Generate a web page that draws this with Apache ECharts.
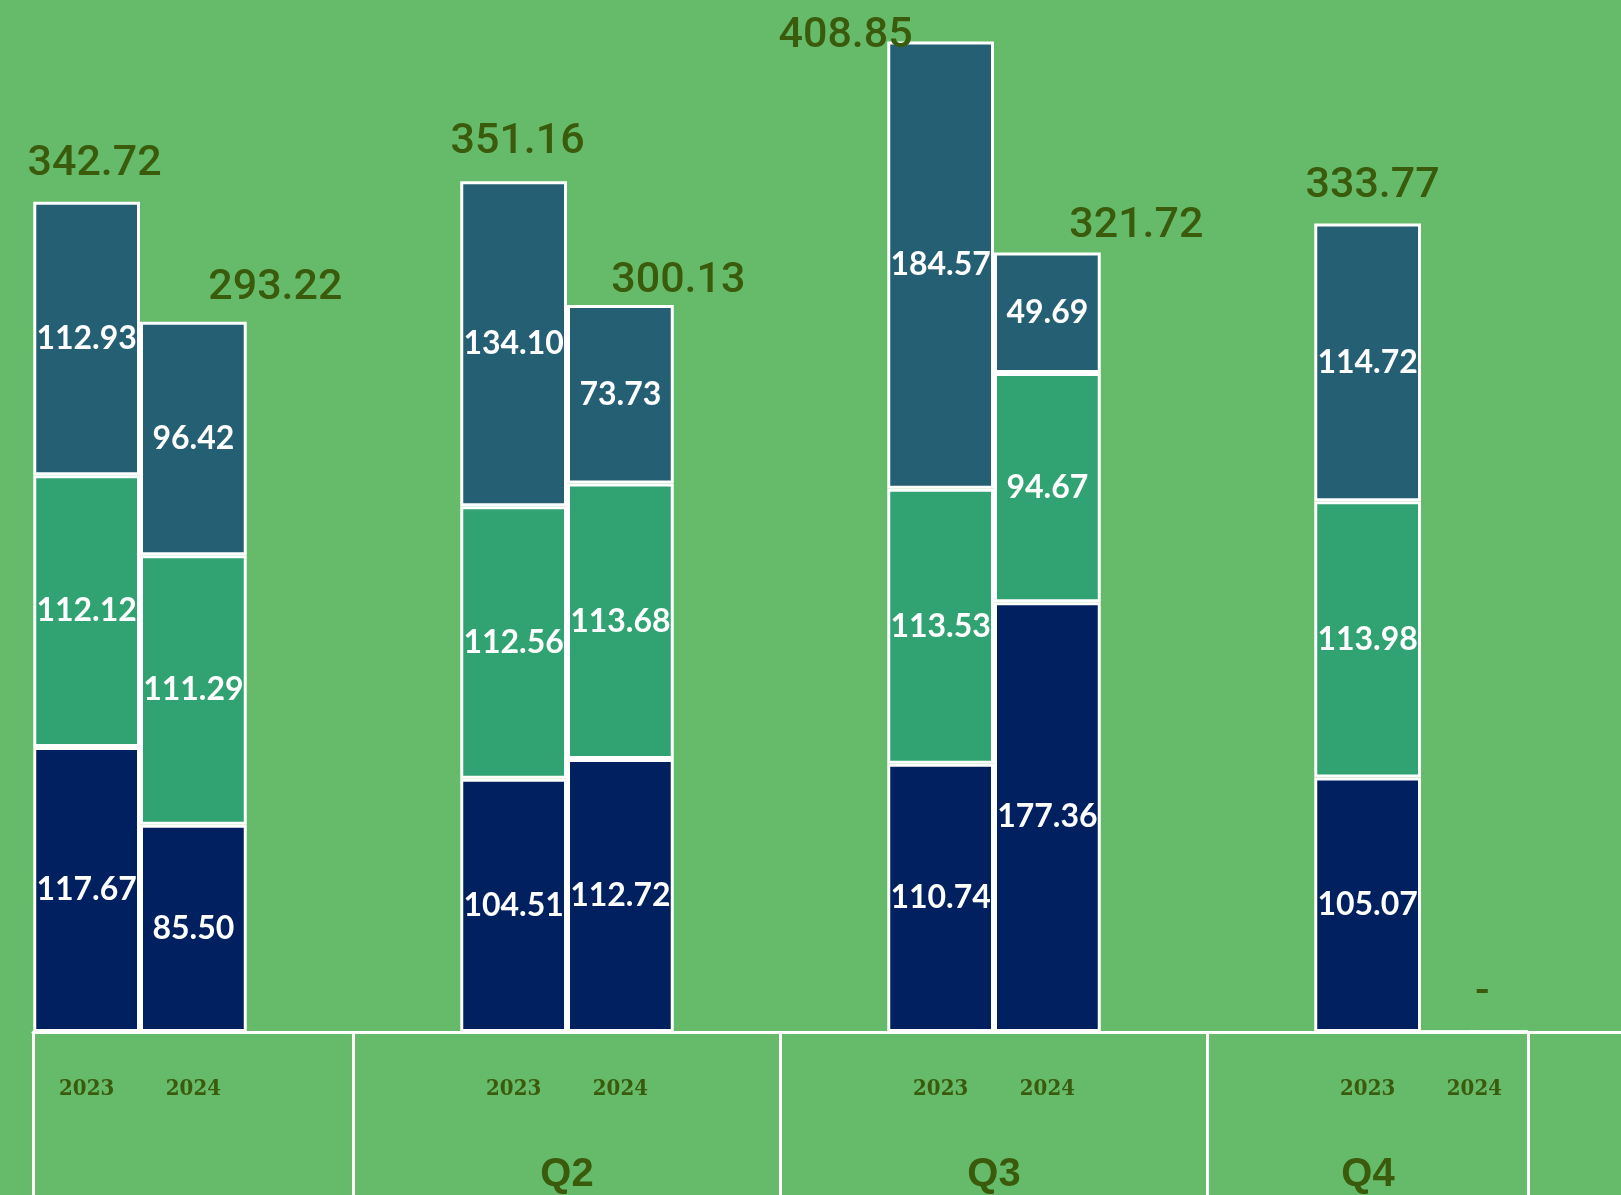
<!DOCTYPE html>
<html>
<head>
<meta charset="utf-8">
<script src="https://cdn.jsdelivr.net/npm/echarts@6/dist/echarts.min.js"></script>
<style>
  html, body { margin: 0; padding: 0; background: #66bb6a; }
  #chart { width: 1621px; height: 1195px; }
</style>
</head>
<body>
<div id="chart"></div>
<script>
  // data (bottom segment -> top segment)
  var quarters = ['Q1', 'Q2', 'Q3', 'Q4']
  var years = ['2023', '2024']
  var bottom2023 = [117.67, 104.51, 110.74, 105.07]
  var middle2023 = [112.12, 112.56, 113.53, 113.98]
  var top2023 = [112.93, 134.10, 184.57, 114.72]
  var bottom2024 = [85.50, 112.72, 177.36, 0]
  var middle2024 = [111.29, 113.68, 94.67, 0]
  var top2024 = [96.42, 73.73, 49.69, 0]
  var totals2023 = [342.72, 351.16, 408.85, 333.77]
  var totals2024 = [293.22, 300.13, 321.72, 0]

  // styling
  var textDark = '#3a5a0c'
  var segColors = ['#002060', '#31a373', '#245f73']
  // where the total labels sit relative to the top of each bar [dx, dy]
  var totalShift2023 = [[8, -37], [4, -39], [-95, -5], [5, -37]]
  var totalShift2024 = [[82, -33], [58, -24], [89, -26], [8, -39]]
  // the last quarter cell is cut short, its label sits in the visible part
  var quarterPad = [[0, 0, 0, 0], [0, 0, 0, 0], [0, 0, 0, 0], [0, 106, 0, 0]]

  function fmt (v) {
    return v === 0 ? '-' : v.toFixed(2)
  }

  // year slots: 4 per quarter, the two bars sit in the middle two
  var yearSlots = []
  quarters.forEach(function () {
    yearSlots.push('', years[0], years[1], '')
  })

  function segment (name, stack, values, color) {
    return {
      name: name,
      type: 'bar',
      stack: stack,
      xAxisIndex: 0,
      barGap: 0,
      barCategoryGap: '50%',
      data: values,
      itemStyle: { color: color, borderColor: '#fff', borderWidth: 3 },
      label: {
        show: true,
        position: 'inside',
        color: '#fff',
        fontFamily: 'Lato',
        fontWeight: 'bold',
        fontSize: 32,
        formatter: function (p) { return fmt(p.value) }
      }
    }
  }

  function totalSeries (stack, totals, shifts) {
    return {
      type: 'bar',
      stack: stack,
      xAxisIndex: 0,
      barGap: 0,
      barCategoryGap: '50%',
      itemStyle: { color: 'rgba(0,0,0,0)', borderWidth: 0 },
      data: totals.map(function (t, i) {
        return { value: 0, label: { offset: shifts[i] } }
      }),
      label: {
        show: true,
        position: 'inside',
        color: textDark,
        fontFamily: 'Roboto',
        fontWeight: 500,
        fontSize: 43,
        formatter: function (p) { return fmt(totals[p.dataIndex]) }
      }
    }
  }

  var white = { color: '#fff', width: 3 }

  var chart = echarts.init(document.getElementById('chart'))
  chart.setOption({
    backgroundColor: '#66bb6a',
    animation: false,
    // the plot runs past both edges of the canvas, as in the original crop
    grid: [
      { left: -73.5, right: -13.5, top: 0, bottom: 163, outerBoundsMode: 'none', containLabel: false },
      // only carries the baseline, which starts at the first bar
      { left: 33, right: -13.5, top: 0, bottom: 163, outerBoundsMode: 'none', containLabel: false }
    ],
    xAxis: [{
      type: 'category',
      position: 'bottom',
      data: quarters.map(function (q, i) {
        return { value: q, textStyle: { padding: quarterPad[i] } }
      }),
      axisLine: { show: false },
      axisTick: { show: true, interval: 0, length: 170, lineStyle: white },
      axisLabel: {
        interval: function (i) { return i > 0 },
        margin: 123,
        color: textDark,
        fontFamily: 'Liberation Sans',
        fontWeight: 'bold',
        fontSize: 40
      }
    }, {
      type: 'category',
      position: 'bottom',
      data: yearSlots,
      axisLine: { show: false },
      axisTick: {
        show: true,
        interval: function (i) { return i === 1 || i === yearSlots.length - 1 },
        length: 170,
        lineStyle: white
      },
      axisLabel: {
        interval: 0,
        margin: 46,
        color: textDark,
        fontFamily: 'DejaVu Serif Condensed',
        fontWeight: 'bold',
        fontSize: 22
      }
    }, {
      type: 'value',
      gridIndex: 1,
      position: 'bottom',
      min: 0,
      max: 1,
      axisLine: { show: true, onZero: false, lineStyle: white },
      axisTick: { show: false },
      axisLabel: { show: false },
      splitLine: { show: false }
    }],
    yAxis: [
      { type: 'value', min: 0, max: 426, show: false, splitLine: { show: false } },
      { type: 'value', gridIndex: 1, min: 0, max: 1, show: false, splitLine: { show: false } }
    ],
    series: [
      segment('bottom', years[0], bottom2023, segColors[0]),
      segment('middle', years[0], middle2023, segColors[1]),
      segment('top', years[0], top2023, segColors[2]),
      totalSeries(years[0], totals2023, totalShift2023),
      segment('bottom', years[1], bottom2024, segColors[0]),
      segment('middle', years[1], middle2024, segColors[1]),
      segment('top', years[1], top2024, segColors[2]),
      totalSeries(years[1], totals2024, totalShift2024)
    ]
  })
</script>
</body>
</html>
